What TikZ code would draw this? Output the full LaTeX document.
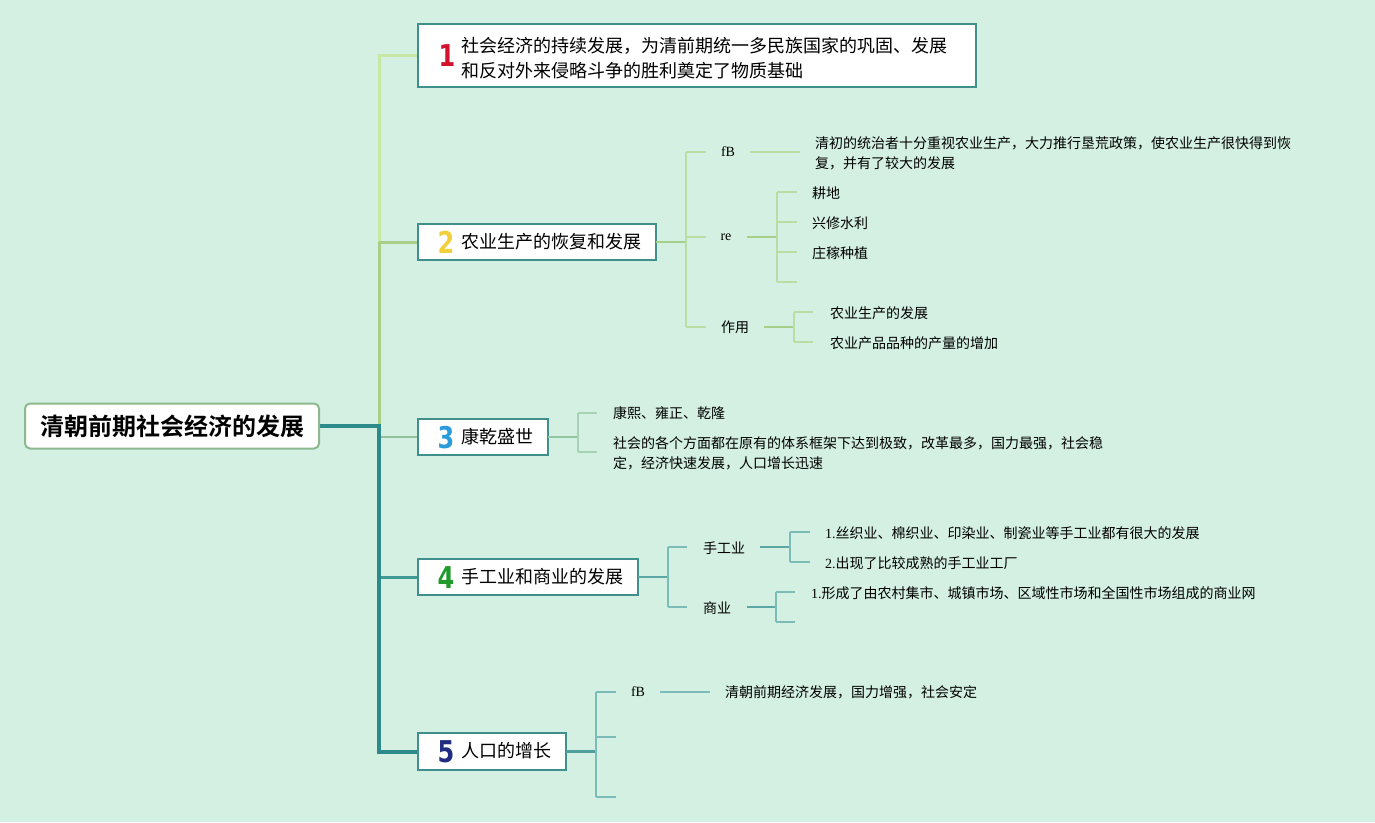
\documentclass[tikz,border=0pt]{standalone}
\usepackage{fontspec}
\usepackage{graphicx}
\usetikzlibrary{backgrounds}
\setmainfont{Liberation Serif}
\newfontfamily\cjk{Noto Sans CJK SC}[BoldFont={Noto Sans CJK SC Bold}]
\newfontfamily\numf{DejaVu Sans}[BoldFont={DejaVu Sans Bold}]
\definecolor{bgc}{HTML}{D3F0E2}
\definecolor{c1}{HTML}{C8E6A4}
\definecolor{c2}{HTML}{A8CF86}
\definecolor{c3}{HTML}{8FC29C}
\definecolor{c4}{HTML}{3F9A95}
\definecolor{c5}{HTML}{2C8A8A}
\definecolor{boxc}{HTML}{3F8F8C}
\definecolor{rootc}{HTML}{8CB88E}
\definecolor{s2c}{HTML}{B9DDA2}
\definecolor{s2d}{HTML}{A6CF8A}
\definecolor{s3c}{HTML}{A6D3B3}
\definecolor{s3d}{HTML}{93C6A2}
\definecolor{s4c}{HTML}{7CBCB7}
\definecolor{s4d}{HTML}{5BA7A3}
\definecolor{s5c}{HTML}{7CBCB8}
\definecolor{s5d}{HTML}{4E9F9D}
\definecolor{n1c}{HTML}{D3122E}
\definecolor{n2c}{HTML}{F4CF3C}
\definecolor{n3c}{HTML}{2B9BDB}
\definecolor{n4c}{HTML}{1F9A2B}
\definecolor{n5c}{HTML}{1F2C82}
\tikzset{
  box/.style={draw=boxc, line width=2pt, fill=white, inner sep=0pt, outer sep=0pt, anchor=north west},
  txt/.style={font=\cjk\fontsize{18pt}{25pt}\selectfont, inner sep=0pt, anchor=west, align=left},
  sub/.style={font=\cjk\fontsize{14pt}{20pt}\selectfont, inner sep=0pt, anchor=west, align=left},
  lat/.style={font=\fontsize{14pt}{20pt}\selectfont, inner sep=0pt},
  num/.style={font=\numf\bfseries\fontsize{30pt}{30pt}\selectfont, inner sep=0pt},
  sl2/.style={draw=s2c, line width=1.5pt},
  sl2d/.style={draw=s2d, line width=2.2pt},
  sl3/.style={draw=s3c, line width=1.5pt},
  sl3d/.style={draw=s3d, line width=2.2pt},
  sl4/.style={draw=s4c, line width=1.5pt},
  sl4d/.style={draw=s4d, line width=2.2pt},
  sl5/.style={draw=s5c, line width=1.5pt},
  sl5d/.style={draw=s5d, line width=2.2pt},
}
\newcommand{\dg}[1]{\scalebox{0.8}[1]{#1}}
\begin{document}
\begin{tikzpicture}[x=1pt,y=-1pt]
\begin{scope}[on background layer]
\fill[bgc] (0,0) rectangle (1375,822);
\end{scope}
\useasboundingbox (0,0) rectangle (1375,822);

% trunk coordinates
\coordinate (k1) at (379,55.5);
\coordinate (k2) at (379,242);
\coordinate (k0) at (379,426);
\coordinate (k3) at (379,437);
\coordinate (k4) at (379,577);
\coordinate (k5) at (379,751.5);

% boxes
\node[draw=rootc, line width=2pt, rounded corners=5pt, fill=white, minimum width=294pt, minimum height=45pt, anchor=north west, inner sep=0pt, outer sep=0pt, font=\cjk\bfseries\fontsize{24pt}{24pt}\selectfont] (root) at (25,403.5) {清朝前期社会经济的发展};
\node[box, minimum width=558pt, minimum height=63pt] (n1) at (418,24) {};
\node[box, minimum width=238pt, minimum height=36pt] (n2) at (418,224) {};
\node[box, minimum width=130pt, minimum height=36pt] (n3) at (418,419) {};
\node[box, minimum width=220pt, minimum height=36pt] (n4) at (418,559) {};
\node[box, minimum width=148pt, minimum height=37pt] (n5) at (418,733) {};

% trunk lines (behind boxes)
\begin{scope}[on background layer]
\draw[c1, line width=3pt] (n1.west) -- (k1) -- (k2);
\draw[c2, line width=3pt] (k2) -- (k0);
\draw[c2, line width=3pt] (k2) -- (n2.west);
\draw[c3, line width=2.5pt] (k3) -- (k3 -| n3.west);
\draw[c4, line width=3pt] (k4) -- (n4.west);
\draw[c5, line width=4pt] (root.east) -- (k0) -- (k5) -- (k5 -| n5.west);
\end{scope}

% digits
\node[num, text=n1c] (d1) at (447,55.5) {\dg{1}};
\node[num, text=n2c] (d2) at (446,242.5) {\dg{2}};
\node[num, text=n3c] (d3) at (446,437.5) {\dg{3}};
\node[num, text=n4c] (d4) at (446,577.5) {\dg{4}};
\node[num, text=n5c] (d5) at (446,752) {\dg{5}};

% titles
\node[txt] (t1) at (461,58) {社会经济的持续发展，为清前期统一多民族国家的巩固、发展\\和反对外来侵略斗争的胜利奠定了物质基础};
\node[txt] (t2) at (461,242) {农业生产的恢复和发展};
\node[txt] (t3) at (461,437) {康乾盛世};
\node[txt] (t4) at (461,577) {手工业和商业的发展};
\node[txt] (t5) at (461,751) {人口的增长};

% ---------- branch 2 ----------
\coordinate (j2) at (686,242);
\coordinate (j2a) at (686,152);
\coordinate (j2b) at (686,237);
\coordinate (j2c) at (686,327);
\draw[sl2d] (n2.east) -- (j2);
\draw[sl2] (j2a) -- (j2c);
\draw[sl2] (j2a) -- ++(20,0);
\draw[sl2] (j2b) -- ++(20,0);
\draw[sl2] (j2c) -- ++(20,0);
\node[lat] (fb1) at (728,152) {fB};
\node[lat] (re) at (726,237) {re};
\node[sub, anchor=center] (zy) at (735,327) {作用};
\draw[sl2] (750,152) -- (800,152);
\node[sub] (qc) at (815,153.5) {清初的统治者十分重视农业生产，大力推行垦荒政策，使农业生产很快得到恢\\复，并有了较大的发展};
\coordinate (j2r) at (777,237);
\draw[sl2d] (747,237) -- (j2r);
\draw[sl2] (777,192) -- (777,282);
\foreach \yy in {192,222,252,282} \draw[sl2] (777,\yy) -- (797,\yy);
\node[sub] (gd) at (812,193) {耕地};
\node[sub] (xx) at (812,223) {兴修水利};
\node[sub] (zz) at (812,253) {庄稼种植};
\coordinate (j2z) at (794,327);
\draw[sl2d] (764,327) -- (j2z);
\draw[sl2] (794,312) -- (794,342);
\draw[sl2] (794,312) -- (813,312);
\draw[sl2] (794,342) -- (813,342);
\node[sub] (ny1) at (830,313) {农业生产的发展};
\node[sub] (ny2) at (830,343) {农业产品品种的产量的增加};

% ---------- branch 3 ----------
\coordinate (j3) at (578,437);
\draw[sl3d] (j3 -| n3.east) -- (j3);
\draw[sl3] (578,413) -- (578,452);
\draw[sl3] (578,413) -- (597,413);
\draw[sl3] (578,452) -- (597,452);
\node[sub] (kx) at (613,413) {康熙、雍正、乾隆};
\node[sub] (sh) at (613,453.5) {社会的各个方面都在原有的体系框架下达到极致，改革最多，国力最强，社会稳\\定，经济快速发展，人口增长迅速};

% ---------- branch 4 ----------
\coordinate (j4) at (668,577);
\draw[sl4d] (n4.east) -- (j4);
\draw[sl4] (668,547) -- (668,607);
\draw[sl4] (668,547) -- (687,547);
\draw[sl4] (668,607) -- (687,607);
\node[sub] (sg) at (703,548) {手工业};
\node[sub] (sy) at (703,608) {商业};
\draw[sl4d] (760,547) -- (790,547);
\draw[sl4] (790,532) -- (790,562);
\draw[sl4] (790,532) -- (810,532);
\draw[sl4] (790,562) -- (810,562);
\node[sub] (sg1) at (825,533) {{\rmfamily 1.}丝织业、棉织业、印染业、制瓷业等手工业都有很大的发展};
\node[sub] (sg2) at (825,563) {{\rmfamily 2.}出现了比较成熟的手工业工厂};
\draw[sl4d] (747,607) -- (776,607);
\draw[sl4] (776,592) -- (776,622);
\draw[sl4] (776,592) -- (795,592);
\draw[sl4] (776,622) -- (795,622);
\node[sub] (sy1) at (811,593) {{\rmfamily 1.}形成了由农村集市、城镇市场、区域性市场和全国性市场组成的商业网};

% ---------- branch 5 ----------
\coordinate (j5) at (596,751.5);
\draw[sl5d] (j5 -| n5.east) -- (j5);
\draw[sl5] (596,692) -- (596,797);
\foreach \yy in {692,737,797} \draw[sl5] (596,\yy) -- (616,\yy);
\node[lat] (fb5) at (638,692) {fB};
\draw[sl5] (660,692) -- (710,692);
\node[sub] (qm) at (725,692) {清朝前期经济发展，国力增强，社会安定};
\end{tikzpicture}
\end{document}
